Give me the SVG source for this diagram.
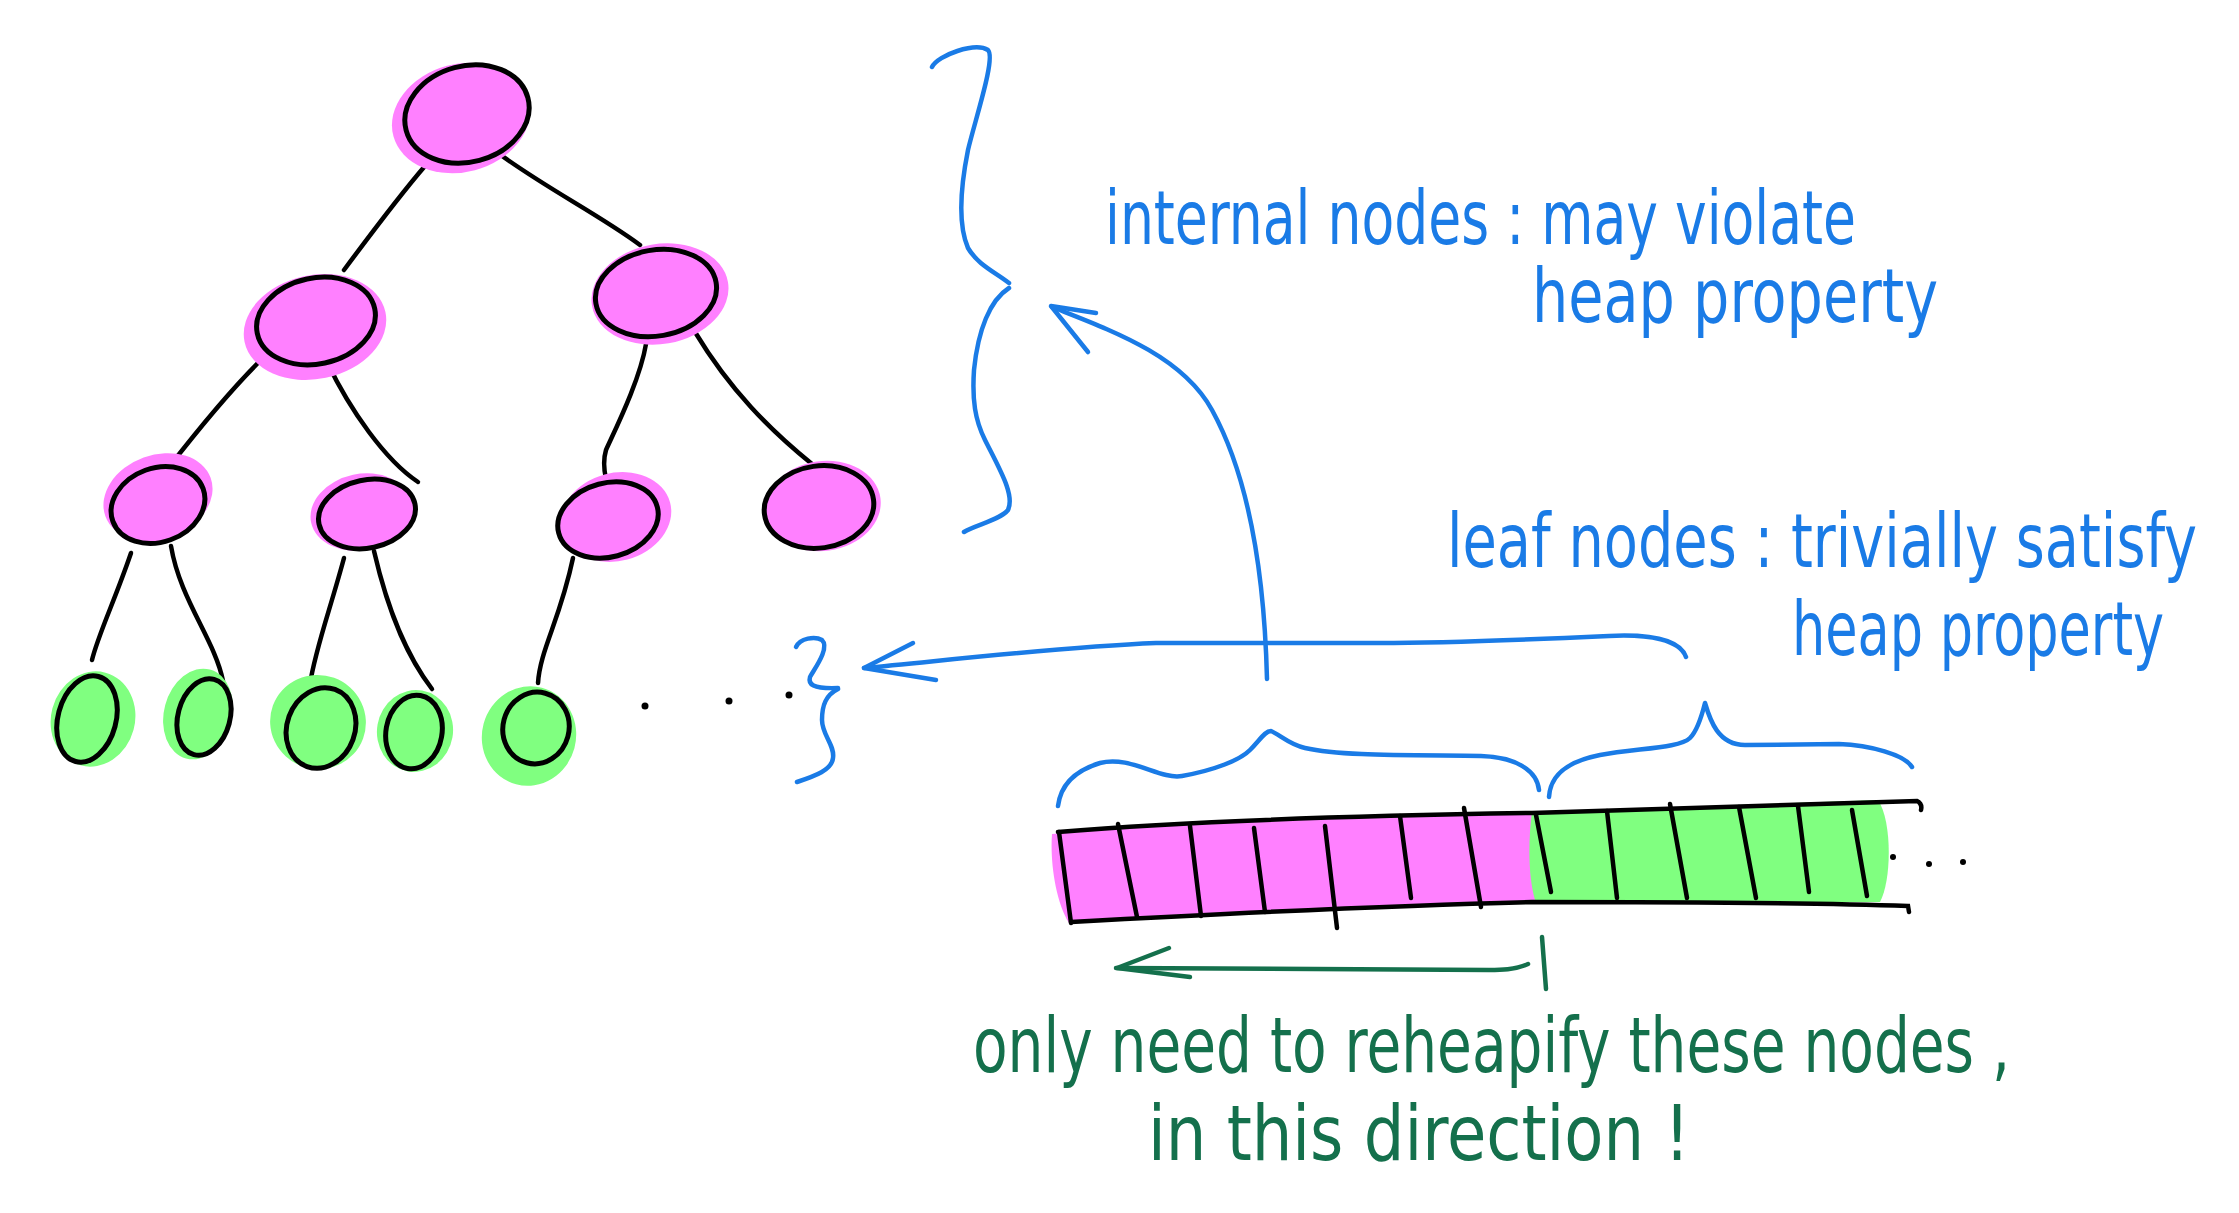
<svg xmlns="http://www.w3.org/2000/svg" width="2239" height="1213" viewBox="0 0 2239 1213">
<style>
.bg{fill:#ffffff}
.pblob{fill:#ff80ff;stroke:none}
.gblob{fill:#80ff80;stroke:none}
.pnode{fill:#ff80ff;stroke:#000;stroke-width:5}
.gnode{fill:#80ff80;stroke:#000;stroke-width:5}
.edge{fill:none;stroke:#000;stroke-width:4.5;stroke-linecap:round}
.blue{fill:none;stroke:#1a7be6;stroke-width:4.5;stroke-linecap:round;stroke-linejoin:round}
.green{fill:none;stroke:#14704c;stroke-width:4.5;stroke-linecap:round;stroke-linejoin:round}
.dot{fill:#000}
.btxt{font-family:"DejaVu Sans Condensed","Liberation Sans Narrow","Liberation Sans",sans-serif;font-size:74px;fill:#1a7be6}
.gtxt{font-family:"DejaVu Sans Condensed","Liberation Sans Narrow","Liberation Sans",sans-serif;font-size:76px;fill:#14704c}
</style>
<rect class="bg" x="0" y="0" width="2239" height="1213"/>

<g id="connectors">
  <path class="edge" d="M425,166 C400,195 370,235 344,270"/>
  <path class="edge" d="M494,150 C540,185 600,215 640,245"/>
  <path class="edge" d="M264,357 C230,390 190,440 169,467"/>
  <path class="edge" d="M327,362 C350,410 385,460 418,482"/>
  <path class="edge" d="M646,344 C640,380 615,430 606,450 C603,460 604,470 606,479"/>
  <path class="edge" d="M695,332 C730,390 770,430 812,464"/>
  <path class="edge" d="M131,553 C115,600 98,635 92,660"/>
  <path class="edge" d="M171,546 C180,600 215,640 223,681"/>
  <path class="edge" d="M344,558 C330,610 315,650 310,684"/>
  <path class="edge" d="M374,551 C390,620 410,660 432,689"/>
  <path class="edge" d="M573,558 C560,620 540,650 538,683"/>
</g>

<g id="node-root">
  <ellipse class="pblob" cx="461" cy="118" rx="70" ry="54" transform="rotate(-15 461 118)"/>
  <ellipse class="pnode" cx="467" cy="114" rx="63" ry="48" transform="rotate(-15 467 114)"/>
</g>
<g id="node-l2-left">
  <ellipse class="pblob" cx="315" cy="327" rx="72" ry="52" transform="rotate(-12 315 327)"/>
  <ellipse class="pnode" cx="316" cy="321" rx="60" ry="43" transform="rotate(-12 316 321)"/>
</g>
<g id="node-l2-right">
  <ellipse class="pblob" cx="660" cy="294" rx="69" ry="50" transform="rotate(-10 660 294)"/>
  <ellipse class="pnode" cx="656" cy="293" rx="61" ry="43" transform="rotate(-10 656 293)"/>
</g>
<g id="node-l3-a">
  <ellipse class="pblob" cx="158" cy="497" rx="56" ry="42" transform="rotate(-20 158 497)"/>
  <ellipse class="pnode" cx="158" cy="505" rx="48" ry="37" transform="rotate(-20 158 505)"/>
</g>
<g id="node-l3-b">
  <ellipse class="pblob" cx="361" cy="512" rx="51" ry="38" transform="rotate(-12 361 512)"/>
  <ellipse class="pnode" cx="367" cy="514" rx="49" ry="34" transform="rotate(-12 367 514)"/>
</g>
<g id="node-l3-c">
  <ellipse class="pblob" cx="616" cy="517" rx="56" ry="44" transform="rotate(-15 616 517)"/>
  <ellipse class="pnode" cx="608" cy="520" rx="51" ry="37" transform="rotate(-15 608 520)"/>
</g>
<g id="node-l3-d">
  <ellipse class="pblob" cx="823" cy="506" rx="58" ry="45" transform="rotate(-8 823 506)"/>
  <ellipse class="pnode" cx="819" cy="507" rx="55" ry="41" transform="rotate(-8 819 507)"/>
</g>

<g id="leaf-1">
  <ellipse class="gblob" cx="93" cy="719" rx="42" ry="48" transform="rotate(15 93 719)"/>
  <ellipse class="gnode" cx="87" cy="719" rx="29" ry="44" transform="rotate(15 87 719)"/>
</g>
<g id="leaf-2">
  <ellipse class="gblob" cx="198" cy="714" rx="34" ry="46" transform="rotate(15 198 714)"/>
  <ellipse class="gnode" cx="204" cy="717" rx="26" ry="39" transform="rotate(15 204 717)"/>
</g>
<g id="leaf-3">
  <ellipse class="gblob" cx="318" cy="722" rx="48" ry="47" transform="rotate(20 318 722)"/>
  <ellipse class="gnode" cx="321" cy="728" rx="34" ry="41" transform="rotate(20 321 728)"/>
</g>
<g id="leaf-4">
  <ellipse class="gblob" cx="415" cy="731" rx="38" ry="41" transform="rotate(10 415 731)"/>
  <ellipse class="gnode" cx="414" cy="732" rx="28" ry="37" transform="rotate(10 414 732)"/>
</g>
<g id="leaf-5">
  <ellipse class="gblob" cx="529" cy="736" rx="47" ry="50" transform="rotate(15 529 736)"/>
  <ellipse class="gnode" cx="536" cy="728" rx="33" ry="36" transform="rotate(15 536 728)"/>
</g>

<g id="tree-dots">
  <circle class="dot" cx="645" cy="706" r="3.5"/>
  <circle class="dot" cx="729" cy="701" r="3.5"/>
  <circle class="dot" cx="789" cy="695" r="3.5"/>
</g>

<g id="braces-and-arrows">
  <path class="blue" d="M932,67 C938,55 975,42 988,50 C996,58 975,120 968,150 C960,190 958,225 968,248 C978,265 995,272 1009,283"/>
  <path class="blue" d="M1009,288 C990,300 978,330 974,370 C972,400 975,420 985,440 C1000,470 1015,495 1008,510 C1000,520 975,525 964,532"/>
  <path class="blue" d="M796,647 C800,638 815,636 822,640 C830,648 815,668 810,677 C808,684 812,689 838,688"/>
  <path class="blue" d="M838,689 C826,695 822,705 822,720 C822,735 835,745 833,758 C832,770 815,776 797,782"/>
  <path class="blue" d="M1686,657 C1680,640 1650,634 1609,636 C1520,640 1450,643 1380,643 L1156,643 C1060,647 950,660 864,668"/>
  <path class="blue" d="M913,643 L864,668 L936,680"/>
  <path class="blue" d="M1267,679 C1264,560 1245,470 1212,410 C1182,355 1110,330 1052,307"/>
  <path class="blue" d="M1096,313 L1051,306 L1088,352"/>
  <path class="blue" d="M1058,806 C1060,790 1070,772 1100,763 C1130,755 1160,780 1182,776 C1215,770 1240,760 1250,750 C1260,740 1265,731 1271,731 C1280,735 1290,745 1305,748 C1340,756 1400,755 1481,756 C1515,757 1537,770 1539,790"/>
  <path class="blue" d="M1549,797 C1550,780 1560,763 1600,755 C1640,748 1680,748 1690,738 C1698,730 1702,715 1705,703 C1710,720 1718,745 1745,745 L1839,744 C1870,745 1905,755 1912,767"/>
</g>

<g id="array">
  <path class="pblob" d="M1052,834 C1200,822 1400,815 1546,812 L1548,900 C1400,905 1200,915 1069,923 C1055,900 1050,860 1052,834 Z"/>
  <path class="gblob" d="M1532,812 L1878,800 C1892,820 1892,880 1880,902 L1536,903 C1528,880 1528,840 1532,812 Z"/>
  <path class="edge" d="M1058,832 C1200,820 1400,815 1532,813 L1917,801 C1921,803 1922,806 1921,810"/>
  <path class="edge" d="M1071,922 C1200,915 1400,905 1532,902 C1700,902 1850,904 1908,906 L1909,912"/>
  <path class="edge" d="M1059,832 L1071,923"/>
  <path class="edge" d="M1118,824 L1137,917"/>
  <path class="edge" d="M1190,826 L1201,916"/>
  <path class="edge" d="M1254,828 L1265,912"/>
  <path class="edge" d="M1325,826 L1337,928"/>
  <path class="edge" d="M1400,816 L1411,898"/>
  <path class="edge" d="M1464,808 L1481,907"/>
  <path class="edge" d="M1536,815 L1551,892"/>
  <path class="edge" d="M1607,811 L1617,898"/>
  <path class="edge" d="M1670,804 L1687,898"/>
  <path class="edge" d="M1739,807 L1756,898"/>
  <path class="edge" d="M1798,806 L1809,892"/>
  <path class="edge" d="M1852,810 L1867,896"/>
  <circle class="dot" cx="1893" cy="857" r="3"/>
  <circle class="dot" cx="1929" cy="864" r="3"/>
  <circle class="dot" cx="1963" cy="862" r="3"/>
</g>

<g id="direction-arrow">
  <path class="green" d="M1542,937 L1546,989"/>
  <path class="green" d="M1528,964 C1515,970 1500,970 1489,970 L1116,968"/>
  <path class="green" d="M1169,948 L1117,968 L1190,977"/>
</g>

<g id="labels">
  <text class="btxt" x="1105" y="244" textLength="751" lengthAdjust="spacingAndGlyphs">internal nodes : may violate</text>
  <text class="btxt" x="1532" y="322" textLength="406" lengthAdjust="spacingAndGlyphs">heap property</text>
  <text class="btxt" x="1447" y="567" textLength="750" lengthAdjust="spacingAndGlyphs">leaf nodes : trivially satisfy</text>
  <text class="btxt" x="1792" y="655" textLength="372" lengthAdjust="spacingAndGlyphs">heap property</text>
  <text class="gtxt" x="973" y="1072" textLength="1037" lengthAdjust="spacingAndGlyphs">only need to reheapify these nodes ,</text>
  <text class="gtxt" x="1148" y="1160" textLength="542" lengthAdjust="spacingAndGlyphs">in this direction !</text>
</g>
</svg>
